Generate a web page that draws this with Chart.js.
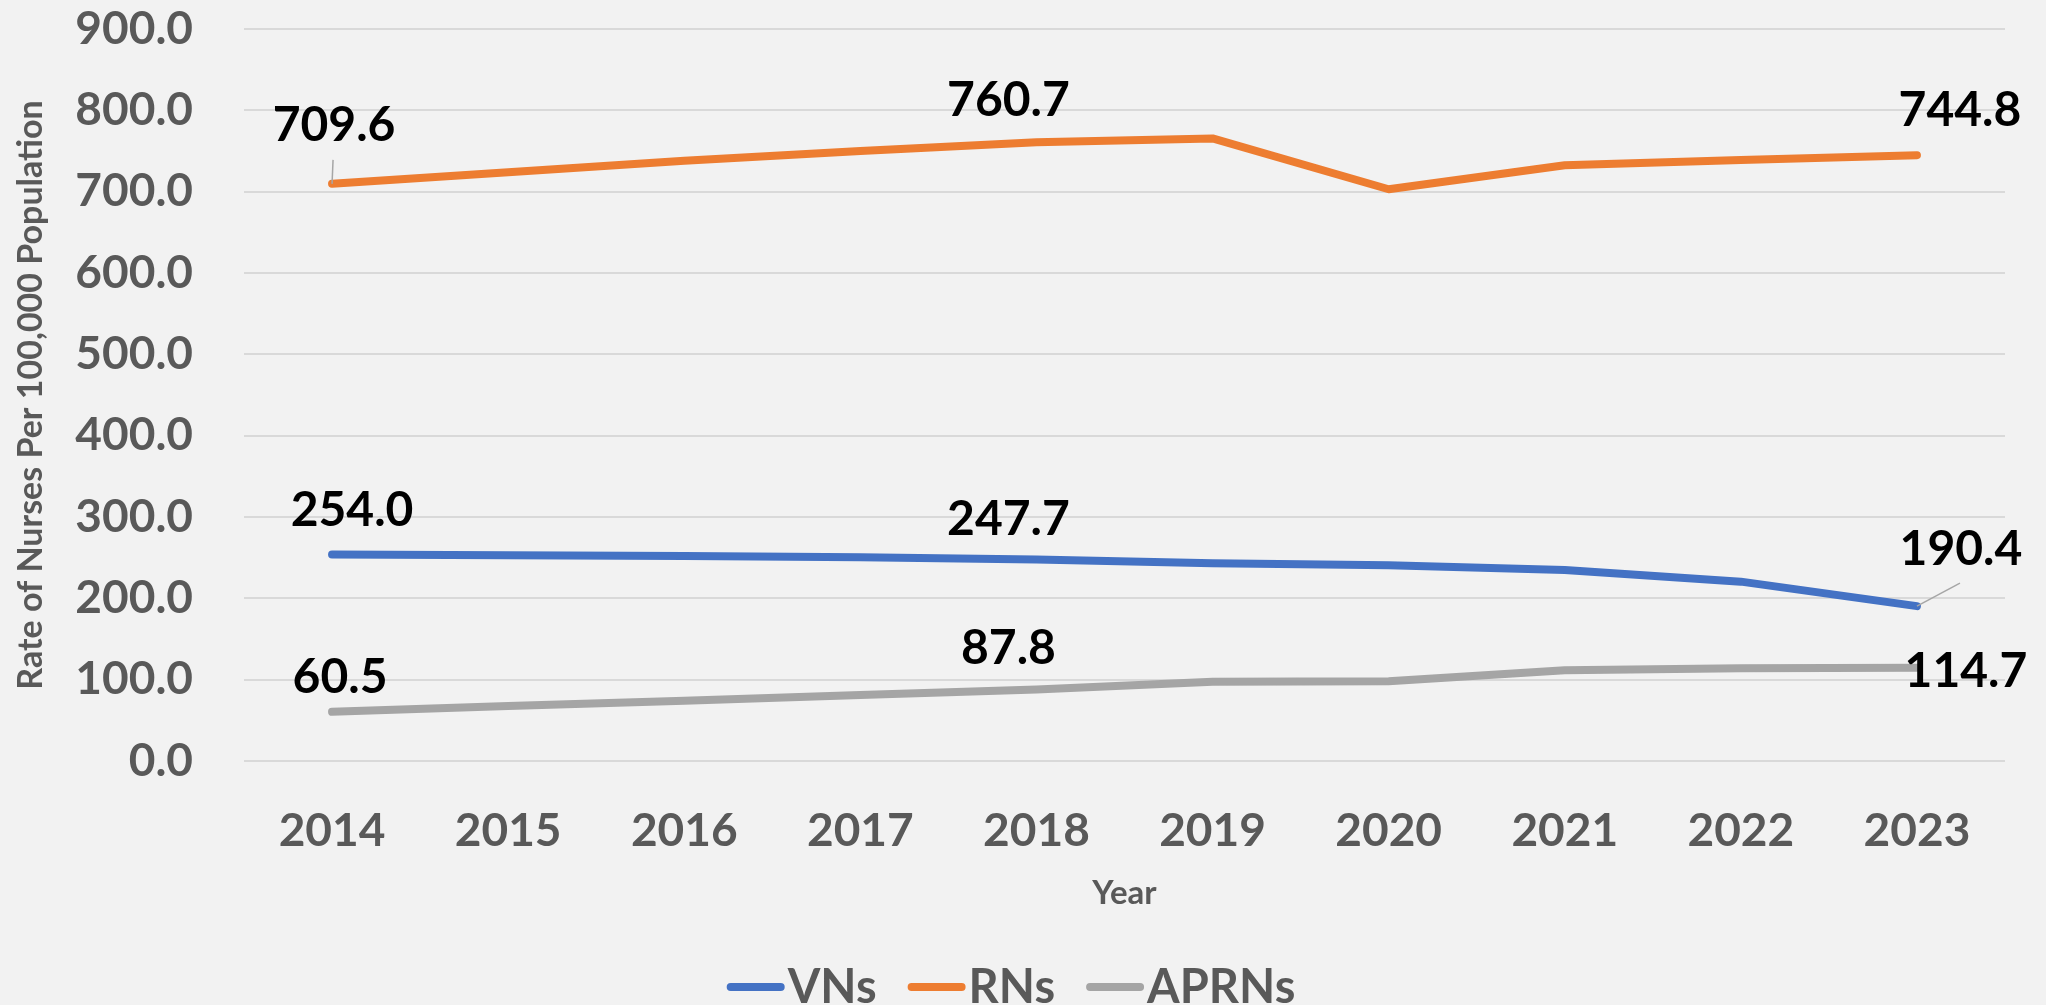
<!DOCTYPE html>
<html>
<head>
<meta charset="utf-8">
<script src="https://cdn.jsdelivr.net/npm/chart.js@4.4.1/dist/chart.umd.min.js"></script>
<style>
  html, body { margin: 0; padding: 0; background: #F2F2F2; overflow: hidden; }
  #wrap { width: 2046px; height: 1012px; }
</style>
</head>
<body>
<div id="wrap"><canvas id="nurseChart" width="2046" height="1012"></canvas></div>
<script>
const years = ['2014', '2015', '2016', '2017', '2018', '2019', '2020', '2021', '2022', '2023'];
const vnRates = [254.0, 253.0, 252.2, 250.6, 247.7, 243.0, 240.6, 234.8, 220.5, 190.4];
const rnRates = [709.6, 724.0, 738.0, 750.0, 760.7, 765.5, 703.0, 732.5, 739.0, 744.8];
const aprnRates = [60.5, 67.5, 74.0, 81.0, 87.8, 97.5, 98.0, 111.5, 114.0, 114.7];
const seriesNames = ['VNs', 'RNs', 'APRNs'];
const lineColors = ['#4472C4', '#ED7D31', '#A5A5A5'];

const txtGray = '#595959';
const fontFam = 'Lato';

// where the value labels sit, relative to their point (dataset, index, offset)
const labelSpots = [
  {ds: 0, i: 0, dx: 20, dy: -44},
  {ds: 0, i: 4, dx: -28, dy: -40},
  {ds: 0, i: 9, dx: 44, dy: -57, leader: true},
  {ds: 1, i: 0, dx: 2, dy: -58, leader: true},
  {ds: 1, i: 4, dx: -28, dy: -42},
  {ds: 1, i: 9, dx: 43, dy: -45},
  {ds: 2, i: 0, dx: 8, dy: -34},
  {ds: 2, i: 4, dx: -28, dy: -41},
  {ds: 2, i: 9, dx: 49, dy: 4}
];

const valueLabels = {
  id: 'valueLabels',
  afterDatasetsDraw(chart) {
    const ctx = chart.ctx;
    ctx.save();
    ctx.font = 'bold 48px ' + fontFam;
    ctx.textAlign = 'center';
    ctx.textBaseline = 'middle';
    labelSpots.forEach(s => {
      const pt = chart.getDatasetMeta(s.ds).data[s.i];
      const val = chart.data.datasets[s.ds].data[s.i];
      const lx = pt.x + s.dx, ly = pt.y + s.dy;
      if (s.leader) {
        ctx.strokeStyle = '#A6A6A6';
        ctx.lineWidth = 1.5;
        ctx.beginPath();
        ctx.moveTo(lx - 1, ly + 34);
        ctx.lineTo(pt.x, pt.y);
        ctx.stroke();
      }
      ctx.fillStyle = '#000000';
      ctx.fillText(val.toFixed(1), lx, ly);
    });
    ctx.restore();
  }
};

const bottomLegend = {
  id: 'bottomLegend',
  afterDraw(chart) {
    const ctx = chart.ctx;
    ctx.save();
    ctx.font = 'bold 47px ' + fontFam;
    ctx.textBaseline = 'middle';
    const lineLen = 58, gapText = 3, gapItem = 31, y = 987;
    const items = chart.data.datasets.map(d => ({text: d.label, color: d.borderColor, w: ctx.measureText(d.label).width}));
    const total = items.reduce((s, it) => s + lineLen + gapText + it.w, 0) + gapItem * (items.length - 1);
    let x = 1011 - total / 2;
    items.forEach(it => {
      ctx.strokeStyle = it.color;
      ctx.lineWidth = 8;
      ctx.lineCap = 'round';
      ctx.beginPath();
      ctx.moveTo(x + 4, y);
      ctx.lineTo(x + lineLen - 4, y);
      ctx.stroke();
      ctx.fillStyle = txtGray;
      ctx.fillText(it.text, x + lineLen + gapText, y + 1);
      x += lineLen + gapText + it.w + gapItem;
    });
    ctx.restore();
  }
};

const seriesData = [vnRates, rnRates, aprnRates];

let nChart = new Chart('nurseChart', {
  type: 'line',
  data: {
    labels: years,
    datasets: seriesNames.map((name, k) => ({
      label: name,
      data: seriesData[k],
      borderColor: lineColors[k],
      backgroundColor: lineColors[k],
      borderWidth: 8,
      borderCapStyle: 'round',
      borderJoinStyle: 'round',
      pointRadius: 0,
      tension: 0,
      fill: false
    }))
  },
  options: {
    responsive: false,
    animation: false,
    devicePixelRatio: 1,
    layout: {padding: {top: 29, right: 41, left: 0, bottom: 0}},
    plugins: {
      legend: {display: false},
      tooltip: {enabled: false}
    },
    scales: {
      x: {
        offset: true,
        afterFit(scale) { scale.height = 251; },
        ticks: {padding: 43, color: txtGray, maxRotation: 0, autoSkip: false,
          font: {family: fontFam, size: 46, weight: 'bold'}},
        grid: {display: false, drawTicks: false},
        border: {display: false},
        title: {display: true, text: 'Year', color: txtGray,
          font: {family: fontFam, size: 33, weight: 'bold'}, padding: {top: 0, bottom: 99}}
      },
      y: {
        min: 0,
        max: 900,
        afterFit(scale) { scale.width = 244; },
        ticks: {stepSize: 100, padding: 0, color: txtGray,
          font: {family: fontFam, size: 46, weight: 'bold'},
          callback: (v) => Number(v).toFixed(1)},
        grid: {color: '#D9D9D9', lineWidth: 2, drawTicks: true, tickLength: 51, tickColor: 'rgba(0,0,0,0)'},
        border: {display: false},
        title: {display: true, text: 'Rate of Nurses Per 100,000 Population', color: txtGray,
          font: {family: fontFam, size: 34, weight: 'bold'}, padding: {top: 11, bottom: 0}}
      }
    }
  },
  plugins: [valueLabels, bottomLegend]
});
</script>
</body>
</html>
